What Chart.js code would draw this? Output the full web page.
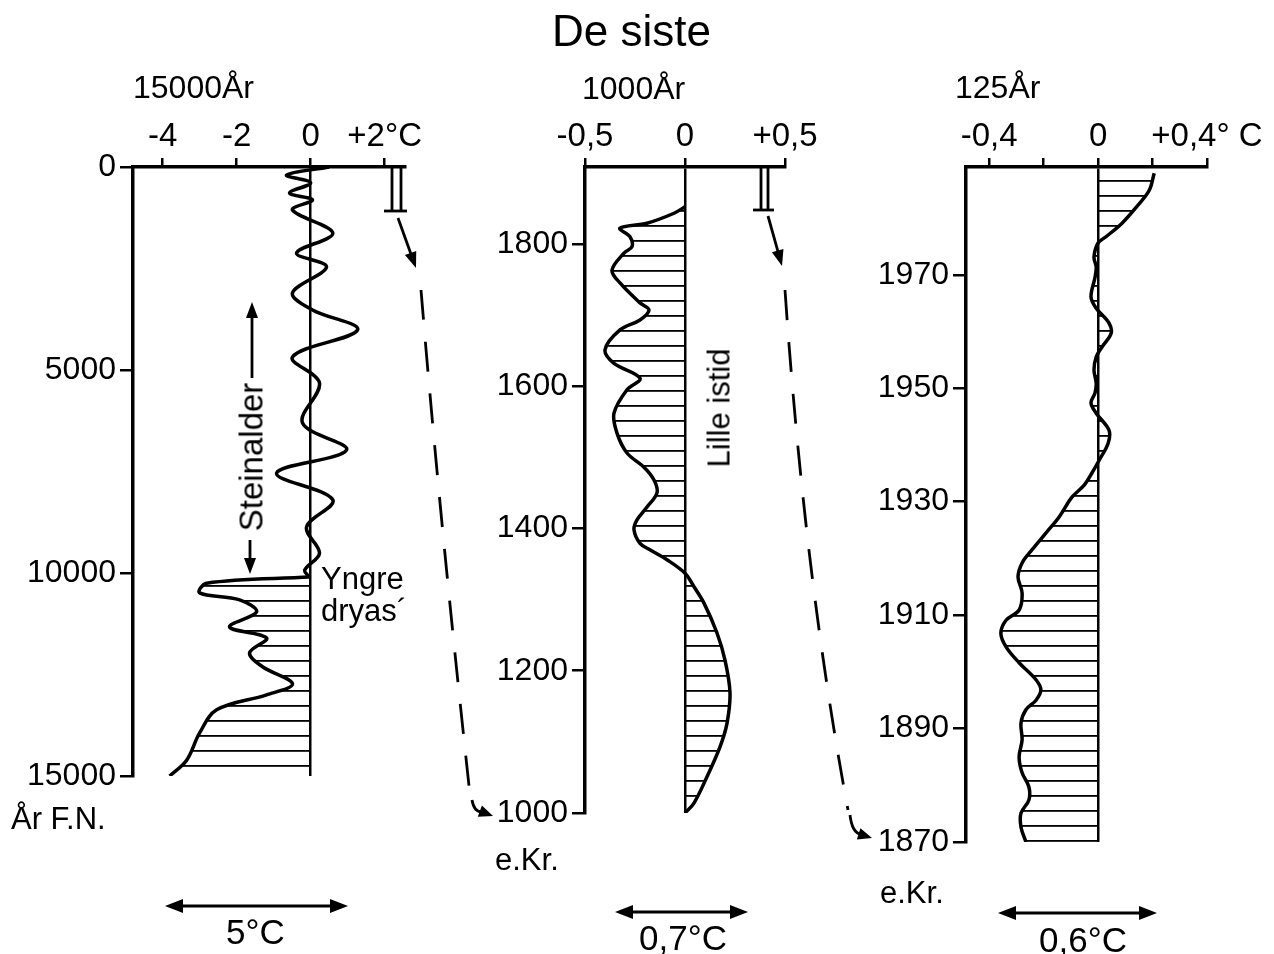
<!DOCTYPE html>
<html>
<head>
<meta charset="utf-8">
<script src="https://cdn.jsdelivr.net/npm/chart.js@4.4.1/dist/chart.umd.min.js"></script>
<style>
  body { margin: 0; background: #fff; }
  #wrap { position: relative; width: 1274px; height: 954px; overflow: hidden; background: #fff; }
  canvas { position: absolute; left: 0; top: 0; }
  .t { position: absolute; font-family: 'Liberation Sans', Arial, sans-serif; line-height: 1; color: #000; white-space: nowrap; }
  .rot { transform: translate(-50%, -50%) rotate(-90deg); }
</style>
</head>
<body>
<div id="wrap">
  <canvas id="c1" width="1274" height="954"></canvas>
  <canvas id="c2" width="1274" height="954"></canvas>
  <canvas id="c3" width="1274" height="954"></canvas>
  <canvas id="deco" width="1274" height="954"></canvas>

  <div class="t" style="left:552px; top:9px; font-size:44px;">De siste</div>
  <div class="t" style="left:133px; top:71px; font-size:32px;">15000År</div>
  <div class="t" style="left:582px; top:72px; font-size:32px;">1000År</div>
  <div class="t" style="left:955px; top:71px; font-size:32px;">125År</div>

  <div class="t" style="left:11px; top:803px; font-size:31px;">År F.N.</div>
  <div class="t" style="left:495px; top:844px; font-size:31px;">e.Kr.</div>
  <div class="t" style="left:880px; top:877px; font-size:31px;">e.Kr.</div>

  <div class="t" style="left:321px; top:563px; font-size:31px;">Yngre</div>
  <div class="t" style="left:321px; top:595px; font-size:31px;">dryas´</div>
  <div class="t rot" style="left:251px; top:457px; font-size:33px;">Steinalder</div>
  <div class="t rot" style="left:719px; top:408px; font-size:31px;">Lille istid</div>

  <div class="t" style="left:226px; top:914px; font-size:35px;">5°C</div>
  <div class="t" style="left:639px; top:920px; font-size:35px;">0,7°C</div>
  <div class="t" style="left:1039px; top:922px; font-size:35px;">0,6°C</div>
</div>

<script>
// panel 1 : last 15000 years (deg C vs years before now)
const p1UpperTemp = [0.5, -0.65, 0, -0.57, 0.05, -0.49, 0.6, -0.38, 0.43, -0.49, 0.05, 1.27, -0.49, 0.24, -0.22, 0.97, -0.92, 0.6, -0.11, 0.24, -0.16, -0.03];
const p1UpperYear = [0, 200, 390, 640, 810, 1060, 1630, 2120, 2460, 3100, 3520, 4010, 4680, 5320, 6300, 6970, 7540, 8200, 8870, 9510, 9930, 10100];
const p1LowerTemp = [-0.03, -2.81, -3.0, -1.92, -1.46, -2.19, -1.19, -1.65, -1.30, -0.49, -1.19, -2.54, -3.0, -3.35, -3.81];
const p1LowerYear = [10100, 10250, 10490, 10660, 10960, 11330, 11600, 11970, 12310, 12730, 13000, 13370, 13940, 14610, 15000];
const p1XTicks = [-4, -2, 0, 2];
const p1XLabels = ['-4', '-2', '0', '+2°C'];
const p1YTicks = [0, 5000, 10000, 15000];

// panel 2 : last 1000 years
const p2Temp = [0, -0.055, -0.19, -0.325, -0.275, -0.265, -0.305, -0.365, -0.325, -0.225, -0.18, -0.225, -0.325, -0.40, -0.355, -0.225, -0.29, -0.355, -0.34, -0.29, -0.205, -0.155, -0.14, -0.19, -0.24, -0.255, -0.225, -0.175, -0.09, 0, 0.045, 0.095, 0.16, 0.20, 0.225, 0.21, 0.175, 0.11, 0.045, 0];
const p2Year = [1852, 1843, 1829, 1822, 1810, 1796, 1787, 1763, 1745, 1717, 1707, 1693, 1679, 1651, 1632, 1611, 1595, 1562, 1534, 1506, 1486, 1468, 1450, 1430, 1412, 1398, 1379, 1370, 1356, 1337, 1318, 1295, 1253, 1215, 1169, 1126, 1093, 1051, 1014, 1000];
const p2XTicks = [-0.5, 0, 0.5];
const p2XLabels = ['-0,5', '0', '+0,5'];
const p2YTicks = [1000, 1200, 1400, 1600, 1800];

// panel 3 : last 125 years
const p3Temp = [0.206, 0.188, 0.140, 0.088, 0.029, 0, -0.015, -0.007, -0.011, -0.026, -0.007, 0.040, 0.048, 0.015, -0.007, -0.015, -0.007, -0.011, -0.026, -0.007, 0.040, 0.037, 0.004, -0.022, -0.051, -0.096, -0.143, -0.191, -0.243, -0.279, -0.294, -0.279, -0.290, -0.338, -0.357, -0.338, -0.290, -0.228, -0.210, -0.228, -0.265, -0.283, -0.279, -0.290, -0.279, -0.254, -0.254, -0.283, -0.283, -0.265];
const p3Year = [1987.9, 1984.9, 1981.9, 1979.1, 1976.7, 1975.6, 1973.1, 1971.4, 1969.6, 1966.1, 1964.1, 1961.5, 1959.7, 1957.3, 1955.5, 1953.2, 1950.9, 1949.2, 1947.4, 1945.6, 1942.6, 1940.3, 1937.3, 1935.1, 1932.9, 1930.8, 1927.3, 1924.5, 1921.5, 1919.2, 1916.7, 1913.9, 1910.9, 1909.1, 1906.8, 1904.4, 1901.6, 1898.6, 1896.8, 1895.0, 1893.3, 1891.0, 1888.0, 1885.0, 1882.2, 1879.7, 1877.4, 1875.1, 1872.6, 1870];
const p3XTicks = [-0.4, -0.2, 0, 0.2, 0.4];
const p3XLabels = ['-0,4', '', '0', '', '+0,4° C'];
const p3YTicks = [1870, 1890, 1910, 1930, 1950, 1970];

Chart.defaults.font.family = "'Liberation Sans', Arial, sans-serif";
Chart.defaults.color = '#000';

function hatch() {
  const c = document.createElement('canvas');
  c.width = 8; c.height = 15;
  const g = c.getContext('2d');
  g.fillStyle = '#000';
  g.fillRect(0, 0, 8, 1.8);
  return g.createPattern(c, 'repeat');
}

function pts(temps, years) {
  return years.map((y, i) => ({ x: temps[i], y: y }));
}

function panel(id, box, datasets, xs, ys) {
  new Chart(document.getElementById(id), {
    type: 'line',
    data: { datasets: datasets },
    options: {
      responsive: false,
      animation: false,
      indexAxis: 'y',
      layout: { padding: { left: box.left - 130, right: 1274 - box.right, top: 167 - 80, bottom: 954 - box.bottom } },
      plugins: { legend: { display: false }, tooltip: { enabled: false } },
      elements: { point: { radius: 0 }, line: { borderColor: '#000', borderWidth: 3.5, tension: 0.35 } },
      scales: {
        x: {
          type: 'linear', position: 'top', min: xs.min, max: xs.max,
          afterBuildTicks: s => { s.ticks = xs.ticks.map(v => ({ value: v })); },
          afterFit: s => { s.height = 80; },
          border: { display: true, color: '#000', width: 3.5 },
          grid: {
            color: c => (c.tick && c.tick.value === 0) ? '#000' : 'rgba(0,0,0,0)',
            lineWidth: 2.5, tickColor: '#000', tickLength: 9
          },
          ticks: { callback: (v, i) => xs.labels[i], font: { size: 33 }, padding: 1, maxRotation: 0, autoSkip: false }
        },
        y: {
          type: 'linear', reverse: !!ys.reverse, min: ys.min, max: ys.max,
          afterBuildTicks: s => { s.ticks = ys.ticks.map(v => ({ value: v })); },
          afterFit: s => { s.width = 130; },
          border: { display: true, color: '#000', width: 3.5 },
          grid: { drawOnChartArea: false, tickColor: '#000', lineWidth: 2.5, tickLength: 13 },
          ticks: { callback: v => String(v), font: { size: 32 }, padding: 4, autoSkip: false }
        }
      }
    }
  });
}

panel('c1', { left: 133, right: 405, bottom: 776 }, [
  { data: pts(p1UpperTemp, p1UpperYear), fill: false },
  { data: pts(p1LowerTemp, p1LowerYear), fill: 'origin', backgroundColor: hatch() }
], { min: -4.8, max: 2.55, ticks: p1XTicks, labels: p1XLabels },
   { min: 0, max: 15000, reverse: true, ticks: p1YTicks });

panel('c2', { left: 585, right: 785, bottom: 813 }, [
  { data: pts(p2Temp, p2Year), fill: 'origin', backgroundColor: hatch() }
], { min: -0.5, max: 0.5, ticks: p2XTicks, labels: p2XLabels },
   { min: 1000, max: 1908, ticks: p2YTicks });

panel('c3', { left: 966, right: 1207, bottom: 842 }, [
  { data: pts(p3Temp, p3Year), fill: 'origin', backgroundColor: hatch() }
], { min: -0.485, max: 0.4, ticks: p3XTicks, labels: p3XLabels },
   { min: 1870, max: 1989, ticks: p3YTicks });

// decorations: brackets, connector arrows, scale arrows
const d = document.getElementById('deco').getContext('2d');
d.strokeStyle = '#000';
d.fillStyle = '#000';
d.lineCap = 'butt';

function line(x1, y1, x2, y2, w) {
  d.lineWidth = w || 2.8;
  d.beginPath(); d.moveTo(x1, y1); d.lineTo(x2, y2); d.stroke();
}
function head(x, y, ang, len, wid) {
  len = len || 16; wid = wid || 6;
  d.beginPath();
  d.moveTo(x, y);
  d.lineTo(x - len * Math.cos(ang) + wid * Math.sin(ang), y - len * Math.sin(ang) - wid * Math.cos(ang));
  d.lineTo(x - len * Math.cos(ang) - wid * Math.sin(ang), y - len * Math.sin(ang) + wid * Math.cos(ang));
  d.closePath(); d.fill();
}
function arrow(x1, y1, x2, y2) {
  const a = Math.atan2(y2 - y1, x2 - x1);
  line(x1, y1, x2 - 12 * Math.cos(a), y2 - 12 * Math.sin(a));
  head(x2, y2, a);
}
function dashed(x1, y1, cx, cy, x2, y2) {
  d.save();
  d.setLineDash([30, 22]);
  d.lineWidth = 2.8;
  d.beginPath(); d.moveTo(x1, y1); d.quadraticCurveTo(cx, cy, x2, y2); d.stroke();
  d.restore();
}
function bracket(x1, x2, y2) {
  line(x1, 167, x1, y2);
  line(x2, 167, x2, y2);
  line(x1 - 8, y2, x2 + 6, y2);
}

bracket(392, 401, 211);
arrow(398, 218, 416, 268);
dashed(421, 290, 440, 520, 470, 795);
d.lineWidth = 2.8;
d.beginPath(); d.moveTo(472, 800); d.quadraticCurveTo(474, 812, 482, 812); d.stroke();
head(493, 816, 0.35, 14, 6);

bracket(761, 768, 210);
arrow(768, 216, 782, 266);
dashed(785, 290, 805, 580, 848, 810);
d.lineWidth = 2.8;
d.beginPath(); d.moveTo(850, 815); d.quadraticCurveTo(852, 832, 860, 834); d.stroke();
head(872, 838, 0.3, 14, 6);

// Steinalder arrows
arrow(252, 378, 252, 302);
arrow(250, 540, 250, 574);

// bottom scale arrows
function dbl(x1, x2, y) {
  line(x1 + 10, y, x2 - 10, y);
  head(x1, y, Math.PI, 18, 7);
  head(x2, y, 0, 18, 7);
}
dbl(165, 348, 906);
dbl(615, 748, 912);
dbl(998, 1157, 913);
</script>
</body>
</html>
